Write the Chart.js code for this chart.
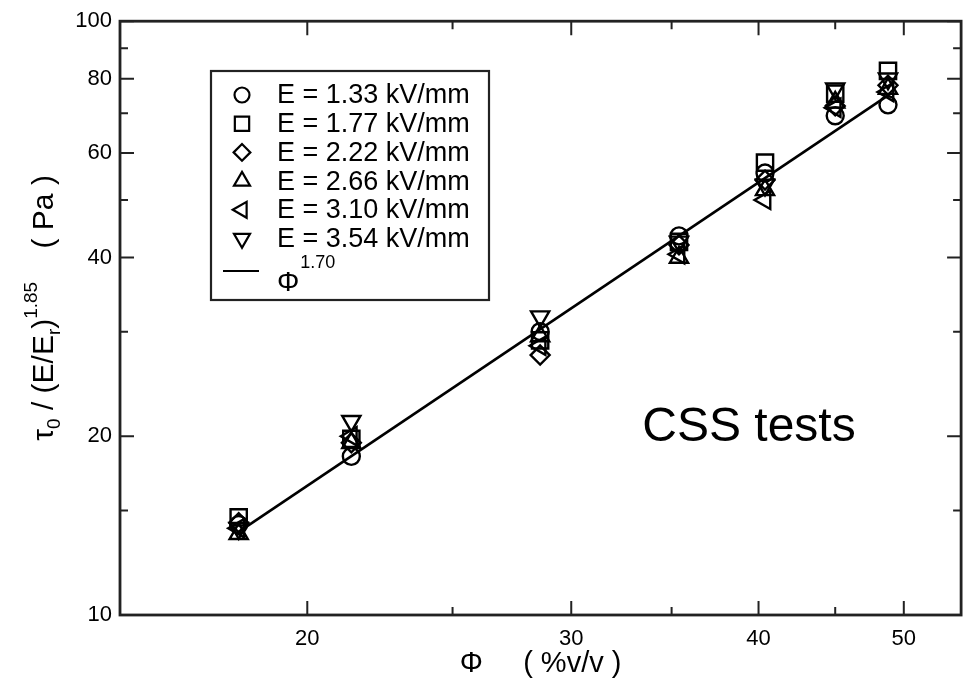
<!DOCTYPE html>
<html>
<head>
<meta charset="utf-8">
<script src="https://cdn.jsdelivr.net/npm/chart.js@4.4.1/dist/chart.umd.min.js"></script>
<style>
html, body { margin: 0; padding: 0; background: #fff; overflow: hidden; }
#wrap { width: 965px; height: 681px; overflow: hidden; }
</style>
</head>
<body>
<div id="wrap"><canvas id="tau" width="975" height="681"></canvas></div>
<script>
// volume fraction (%v/v) of each measured suspension
const phi = [18, 21.4, 28.6, 35.4, 40.4, 45.0, 48.8];

// scaled yield stress tau0/(E/Er)^1.85 (Pa), one array per field strength
const tauE133 = [14.2, 18.5, 30.0, 43.5, 55.5, 69.3, 72.3];
const tauE177 = [14.6, 19.8, 29.0, 42.5, 57.8, 75.5, 82.5];
const tauE222 = [14.3, 19.5, 27.4, 42.0, 54.0, 72.0, 78.0];
const tauE266 = [13.7, 19.5, 29.5, 40.0, 52.0, 73.0, 77.0];
const tauE310 = [14.0, 20.0, 28.4, 40.5, 50.0, 71.5, 76.0];
const tauE354 = [14.0, 21.2, 31.8, 42.5, 53.0, 77.0, 80.0];

// power-law fit Phi^1.70 (end points)
const fitPhi = [18, 49];
const fitTau = [13.8, 75.5];

const fieldLabels = ['E = 1.33 kV/mm', 'E = 1.77 kV/mm', 'E = 2.22 kV/mm',
                     'E = 2.66 kV/mm', 'E = 3.10 kV/mm', 'E = 3.54 kV/mm'];

const xTicks = [20, 30, 40, 50];
const xMinor = [25, 35, 45];
const yTicks = [10, 20, 40, 60, 80, 100];
const yMinor = [15, 30, 50, 70, 90];

const FONT = '"Liberation Sans", Arial, sans-serif';

const markers = [
    { style: 'circle',   rot: 0,   r: 8.5 },
    { style: 'rect',     rot: 0,   r: 11.5 },
    { style: 'rectRot',  rot: 0,   r: 9.5 },
    { style: 'triangle', rot: 0,   r: 10.5 },
    { style: 'triangle', rot: -90, r: 10.5 },
    { style: 'triangle', rot: 180, r: 10.5 }
];

const seriesValues = [tauE133, tauE177, tauE222, tauE266, tauE310, tauE354];

const datasets = seriesValues.map((vals, i) => ({
    label: fieldLabels[i],
    data: phi.map((x, j) => ({ x: x, y: vals[j] })),
    showLine: false,
    pointStyle: markers[i].style,
    pointRotation: markers[i].rot,
    pointRadius: markers[i].r,
    pointBorderWidth: 2.4,
    borderColor: '#000',
    backgroundColor: 'rgba(0,0,0,0)',
    order: 1
}));

datasets.push({
    label: 'fit',
    data: fitPhi.map((x, j) => ({ x: x, y: fitTau[j] })),
    showLine: true,
    pointRadius: 0,
    borderWidth: 2.6,
    borderColor: '#000',
    backgroundColor: 'rgba(0,0,0,0)',
    order: 0
});

// frame with inward ticks on all four sides
const framePlugin = {
    id: 'frame',
    afterDatasetsDraw(chart) {
        const { ctx, chartArea: a, scales } = chart;
        ctx.save();
        ctx.strokeStyle = '#222';
        ctx.lineWidth = 2.8;
        ctx.strokeRect(a.left, a.top, a.right - a.left, a.bottom - a.top);
        ctx.lineWidth = 2;
        const tickX = (vals, len) => vals.forEach(v => {
            const px = scales.x.getPixelForValue(v);
            ctx.beginPath();
            ctx.moveTo(px, a.bottom); ctx.lineTo(px, a.bottom - len);
            ctx.moveTo(px, a.top); ctx.lineTo(px, a.top + len);
            ctx.stroke();
        });
        const tickY = (vals, len) => vals.forEach(v => {
            const py = scales.y.getPixelForValue(v);
            ctx.beginPath();
            ctx.moveTo(a.left, py); ctx.lineTo(a.left + len, py);
            ctx.moveTo(a.right, py); ctx.lineTo(a.right - len, py);
            ctx.stroke();
        });
        tickX(xTicks, 14); tickX(xMinor, 8);
        tickY(yTicks, 14); tickY(yMinor, 8);
        ctx.restore();
    }
};

// y title with sub/superscripts, rotated
const yTitlePlugin = {
    id: 'yTitle',
    afterDraw(chart) {
        const { ctx, chartArea: a } = chart;
        const runs = [
            { t: '\u03c4', s: 30, dy: 0 },
            { t: '0', s: 19, dy: 7 },
            { t: ' / (E/E', s: 30, dy: 0 },
            { t: 'r', s: 19, dy: 7 },
            { t: ')', s: 30, dy: 0 },
            { t: '1.85', s: 19, dy: -16 },
            { t: '    ( Pa )', s: 30, dy: 0 }
        ];
        ctx.save();
        ctx.fillStyle = '#000';
        ctx.textBaseline = 'alphabetic';
        let total = 0;
        runs.forEach(r => { ctx.font = r.s + 'px ' + FONT; r.w = ctx.measureText(r.t).width; total += r.w; });
        ctx.translate(53, 308);
        ctx.rotate(-Math.PI / 2);
        let x = -total / 2;
        runs.forEach(r => {
            ctx.font = r.s + 'px ' + FONT;
            ctx.fillText(r.t, x, r.dy);
            x += r.w;
        });
        ctx.restore();
    }
};

// boxed legend inside the plot plus annotation
const legendPlugin = {
    id: 'boxLegend',
    afterDraw(chart) {
        const { ctx } = chart;
        ctx.save();
        ctx.strokeStyle = '#222';
        ctx.lineWidth = 2.2;
        ctx.strokeRect(211, 71, 278, 229);
        ctx.textBaseline = 'middle';
        fieldLabels.forEach((lab, i) => {
            const y = 95 + i * 28.7;
            ctx.strokeStyle = '#000';
            ctx.fillStyle = 'rgba(0,0,0,0)';
            const m = markers[i];
            Chart.helpers.drawPoint(ctx, { pointStyle: m.style, rotation: m.rot, radius: m.r * 0.88, borderWidth: 2.2 }, 242, y);
            ctx.fillStyle = '#000';
            ctx.font = '27px ' + FONT;
            ctx.fillText(lab, 277, y + 1);
        });
        const ly = 271;
        ctx.strokeStyle = '#000';
        ctx.lineWidth = 2.2;
        ctx.beginPath(); ctx.moveTo(223, ly); ctx.lineTo(259, ly); ctx.stroke();
        ctx.fillStyle = '#000';
        ctx.font = '28px ' + FONT;
        ctx.fillText('\u03a6', 277, 283);
        const pw = ctx.measureText('\u03a6').width;
        ctx.font = '18px ' + FONT;
        ctx.fillText('1.70', 277 + pw + 1, 263);

        ctx.font = '48px ' + FONT;
        ctx.textAlign = 'center';
        ctx.fillText('CSS tests', 749, 428);
        ctx.restore();
    }
};

new Chart(document.getElementById('tau'), {
    type: 'scatter',
    data: { datasets: datasets },
    options: {
        responsive: false,
        animation: false,
        devicePixelRatio: 1,
        layout: { padding: { top: 18, right: 7, left: 0, bottom: 0 } },
        plugins: { legend: { display: false }, tooltip: { enabled: false } },
        scales: {
            x: {
                type: 'logarithmic',
                min: 15,
                max: 54.6,
                grid: { display: false, drawTicks: false },
                border: { display: false },
                afterBuildTicks: s => { s.ticks = xTicks.map(v => ({ value: v })); },
                afterFit: s => { s.height = 66; },
                ticks: {
                    color: '#000',
                    font: { family: FONT, size: 22 },
                    padding: 11,
                    maxRotation: 0,
                    autoSkip: false,
                    callback: v => String(v)
                },
                title: {
                    display: true,
                    text: '\u03a6     ( %v/v )',
                    color: '#000',
                    font: { family: FONT, size: 29 },
                    padding: { top: 0, bottom: 0 }
                }
            },
            y: {
                type: 'logarithmic',
                min: 10,
                max: 100,
                grid: { display: false, drawTicks: false },
                border: { display: false },
                afterBuildTicks: s => { s.ticks = yTicks.map(v => ({ value: v })); },
                afterFit: s => { s.width = 120; },
                ticks: {
                    color: '#000',
                    font: { family: FONT, size: 22 },
                    padding: 8,
                    autoSkip: false,
                    callback: v => String(v)
                }
            }
        }
    },
    plugins: [framePlugin, yTitlePlugin, legendPlugin]
});
</script>
</body>
</html>
